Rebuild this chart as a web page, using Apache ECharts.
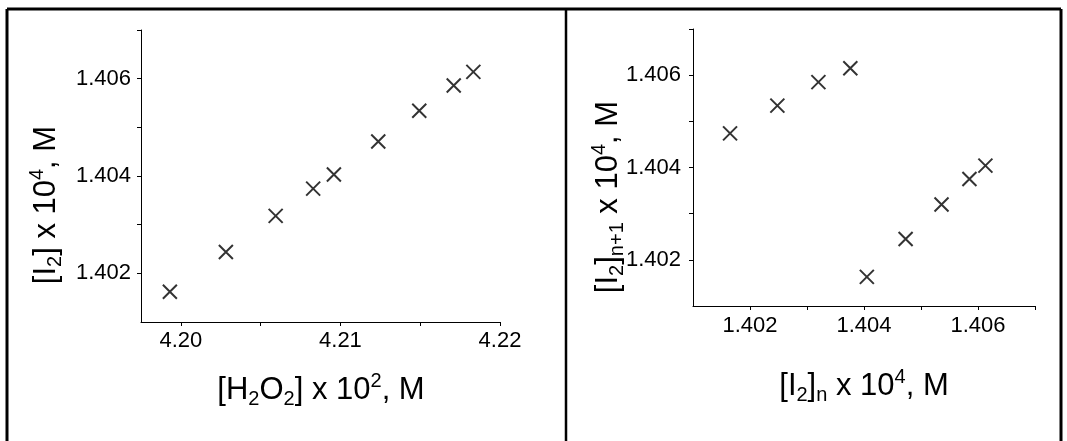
<!DOCTYPE html>
<html>
<head>
<meta charset="utf-8">
<script src="https://cdn.jsdelivr.net/npm/echarts@6/dist/echarts.min.js"></script>
<style>
html,body{margin:0;padding:0;background:#fff;}
#c{width:1067px;height:441px;}
</style>
</head>
<body>
<div id="c"></div>
<script>
// Left panel: [I2] vs [H2O2]
const h2o2 = [4.19931, 4.20282, 4.20594, 4.20829, 4.20959, 4.21237, 4.21494, 4.21710, 4.21833];
const i2 = [1.40162, 1.40244, 1.40318, 1.40374, 1.40403, 1.40471, 1.40534, 1.40586, 1.40614];
// Right panel: [I2]n+1 vs [I2]n
const i2n = [1.40165, 1.40248, 1.40320, 1.40376, 1.40405, 1.40473, 1.40536, 1.40585, 1.40613];
const i2n1 = [1.40474, 1.40534, 1.40585, 1.40615, 1.40163, 1.40245, 1.40320, 1.40375, 1.40404];

const leftXTicks = [4.20, 4.205, 4.21, 4.215, 4.22];
const leftXLabels = [4.20, 4.21, 4.22];
const leftYTicks = [1.402, 1.403, 1.404, 1.405, 1.406, 1.407];
const leftYLabels = [1.402, 1.404, 1.406];
const rightXTicks = [1.402, 1.403, 1.404, 1.405, 1.406, 1.407];
const rightXLabels = [1.402, 1.404, 1.406];
const rightYTicks = [1.402, 1.403, 1.404, 1.405, 1.406, 1.407];
const rightYLabels = [1.402, 1.404, 1.406];

const FONT = 'Liberation Sans, Arial, sans-serif';
const TICKFS = 22;
const TITLEFS = 31;

const chart = echarts.init(document.getElementById('c'), null, {renderer: 'canvas'});

function axisCommon(ticks, labels, decimals, min, max, margin) {
  return {
    type: 'value', min: min, max: max, scale: true,
    axisLine: {show: true, onZero: false, lineStyle: {color: '#000', width: 1}},
    axisTick: {show: true, inside: false, length: 4, customValues: ticks, lineStyle: {color: '#000', width: 1}},
    axisLabel: {show: true, customValues: labels, color: '#000', fontSize: TICKFS, fontFamily: FONT, margin: margin,
      formatter: v => Number(v).toFixed(decimals)},
    splitLine: {show: false}
  };
}

const mark = 'path://M0,0L10,10M10,0L0,10';
const rich = {
  n: {fontSize: TITLEFS, fontFamily: FONT, color: '#000', lineHeight: 38, verticalAlign: 'middle'},
  sub: {fontSize: 20, fontFamily: FONT, color: '#000', lineHeight: 22, verticalAlign: 'bottom'},
  sup: {fontSize: 20, fontFamily: FONT, color: '#000', lineHeight: 22, verticalAlign: 'top'}
};

function title(x, y, text, rot) {
  return {
    type: 'text', x: x, y: y, rotation: rot || 0,
    style: {text: text, rich: rich, align: 'center', verticalAlign: 'middle', fill: '#000', font: TITLEFS + 'px ' + FONT}
  };
}

const option = {
  backgroundColor: '#fff',
  animation: false,
  grid: [
    {left: 141, top: 30, width: 359, height: 292, containLabel: false},
    {left: 693, top: 29, width: 342, height: 277, containLabel: false}
  ],
  xAxis: [
    Object.assign(axisCommon(leftXTicks, leftXLabels, 2, 4.1975, 4.22, 8), {gridIndex: 0}),
    Object.assign(axisCommon(rightXTicks, rightXLabels, 3, 1.401, 1.407, 9), {gridIndex: 1})
  ],
  yAxis: [
    Object.assign(axisCommon(leftYTicks, leftYLabels, 3, 1.401, 1.407, 10), {gridIndex: 0}),
    Object.assign(axisCommon(rightYTicks, rightYLabels, 3, 1.401, 1.407, 12), {gridIndex: 1})
  ],
  series: [
    {type: 'scatter', xAxisIndex: 0, yAxisIndex: 0, symbol: mark, symbolSize: 14,
      itemStyle: {color: 'none', borderColor: '#000', borderWidth: 2},
      data: h2o2.map((x, i) => [x, i2[i]])},
    {type: 'scatter', xAxisIndex: 1, yAxisIndex: 1, symbol: mark, symbolSize: 14,
      itemStyle: {color: 'none', borderColor: '#000', borderWidth: 2},
      data: i2n.map((x, i) => [x, i2n1[i]])}
  ],
  graphic: [
    {type: 'line', shape: {x1: 7, y1: 9, x2: 1061, y2: 9}, style: {stroke: '#000', lineWidth: 3}},
    {type: 'line', shape: {x1: 7, y1: 9, x2: 7, y2: 441}, style: {stroke: '#000', lineWidth: 3}},
    {type: 'line', shape: {x1: 566, y1: 9, x2: 566, y2: 441}, style: {stroke: '#000', lineWidth: 2.5}},
    {type: 'line', shape: {x1: 1061, y1: 9, x2: 1061, y2: 441}, style: {stroke: '#000', lineWidth: 3}},
    title(321, 390, '{n|[H}{sub|2}{n|O}{sub|2}{n|] x 10}{sup|2}{n|, M}'),
    title(46, 205, '{n|[I}{sub|2}{n|] x 10}{sup|4}{n|, M}', Math.PI / 2),
    title(864, 386, '{n|[I}{sub|2}{n|]}{sub|n}{n| x 10}{sup|4}{n|, M}'),
    title(608, 197, '{n|[I}{sub|2}{n|]}{sub|n+1}{n| x 10}{sup|4}{n|, M}', Math.PI / 2)
  ]
};
chart.setOption(option);
</script>
</body>
</html>
